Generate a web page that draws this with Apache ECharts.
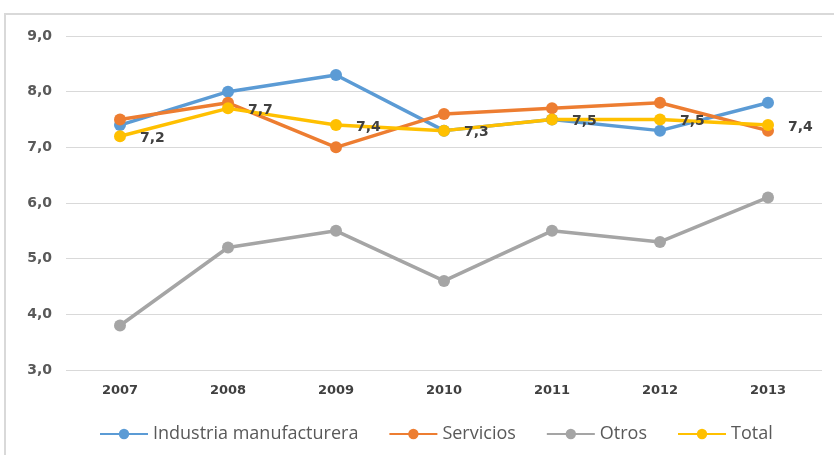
<!DOCTYPE html>
<html><head><meta charset="utf-8">
<script src="https://cdn.jsdelivr.net/npm/echarts@6/dist/echarts.min.js"></script>
<style>html,body{margin:0;padding:0;background:#fff}#c{width:834px;height:455px}</style>
</head><body><div id="c"></div>
<script>
const years = ['2007','2008','2009','2010','2011','2012','2013'];
const industria = [7.4, 8.0, 8.3, 7.3, 7.5, 7.3, 7.8];
const servicios = [7.5, 7.8, 7.0, 7.6, 7.7, 7.8, 7.3];
const otros = [3.8, 5.2, 5.5, 4.6, 5.5, 5.3, 6.1];
const total = [7.2, 7.7, 7.4, 7.3, 7.5, 7.5, 7.4];
const seriesNames = ['Industria manufacturera','Servicios','Otros','Total'];
const colors = ['#5B9BD5','#ED7D31','#A5A5A5','#FFC000'];
const fmt = v => v.toFixed(1).replace('.', ',');

const chart = echarts.init(document.getElementById('c'));
const mk = (name, data, color, withLabel) => ({
  name, type: 'line', data, color,
  symbol: 'circle', symbolSize: 12,
  lineStyle: { width: 3.5, color },
  itemStyle: { color },
  label: withLabel ? { show: true, position: 'right', distance: 14, offset:[0,2],
    formatter: p => fmt(p.value), fontFamily: 'DejaVu Sans, sans-serif', fontWeight: 'bold',
    fontSize: 14, color: '#404040' } : { show: false },
  emphasis: { disabled: true }, animation: false
});
chart.setOption({
  animation: false,
  graphic: [{ type: 'rect', shape: { x: 5, y: 14, width: 900, height: 500 },
    style: { fill: 'none', stroke: '#d9d9d9', lineWidth: 2 }, silent: true }],
  grid: { left: 66, right: 12, top: 36, bottom: 85 },
  xAxis: { type: 'category', data: years, boundaryGap: true,
    axisLine: { show: false }, axisTick: { show: false },
    axisLabel: { margin: 14, fontFamily: 'DejaVu Sans, sans-serif', fontWeight: 'bold', fontSize: 13, color: '#404040' } },
  yAxis: { type: 'value', min: 3, max: 9, interval: 1,
    axisLine: { show: false }, axisTick: { show: false },
    splitLine: { lineStyle: { color: '#d9d9d9', width: 1 } },
    axisLabel: { formatter: v => fmt(v), margin: 14, fontFamily: 'DejaVu Sans, sans-serif', fontWeight: 'bold', fontSize: 14, color: '#595959' } },
  legend: { top: 420, left: 94, itemWidth: 48, itemHeight: 13, itemGap: 30,
    data: seriesNames,
    textStyle: { fontFamily: 'Open Sans, sans-serif', fontSize: 18, color: '#595959' } },
  series: [
    mk(seriesNames[0], industria, colors[0], false),
    mk(seriesNames[1], servicios, colors[1], false),
    mk(seriesNames[2], otros, colors[2], false),
    mk(seriesNames[3], total, colors[3], true)
  ]
});
</script></body></html>
